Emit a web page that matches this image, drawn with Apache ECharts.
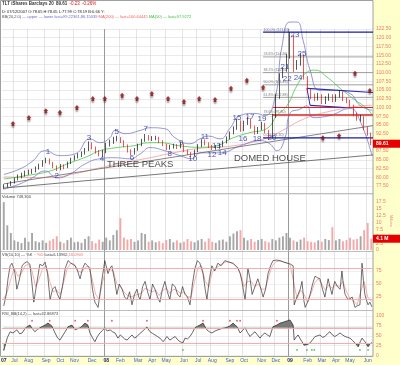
<!DOCTYPE html>
<html><head><meta charset="utf-8">
<script src="https://cdn.jsdelivr.net/npm/echarts@6/dist/echarts.min.js"></script>
<style>
html,body{margin:0;padding:0;background:#ffffcc;overflow:hidden}
#bg{position:absolute;left:0;top:0;width:373px;height:357px;background:#fff}
#c{position:absolute;left:0;top:0;width:400px;height:365px}
</style>
</head><body><div id="bg"></div><div id="c"></div>
<script>
// ---------- DATA ----------
const firstWeek = '2007-06-15';
const weekCount = 105;
const monthAbbr = ['Jan','Feb','Mar','Apr','May','Jun','Jul','Aug','Sep','Oct','Nov','Dec'];
// weekly [open, close, low, high]
const ohlc = [
[77.0,77.5,76.6,78.0],[77.5,77.8,77.1,78.3],[77.8,78.4,77.5,78.9],[78.4,79.5,78.2,79.9],[79.5,80.2,79.1,80.8],
[80.2,80.6,79.7,81.3],[80.6,81.2,80.2,81.9],[81.2,81.5,80.7,82.2],[81.5,81.8,81.0,82.4],[81.8,82.6,81.4,83.1],
[82.6,83.3,82.2,83.9],[83.3,84.3,83.0,84.9],[84.3,85.1,84.0,85.6],[85.1,84.1,83.7,85.4],[84.1,83.0,82.6,84.4],
[83.0,82.3,81.8,83.4],[82.3,83.3,82.0,83.8],[83.3,82.8,82.3,83.7],[82.8,84.0,82.6,84.5],[84.0,85.2,83.8,85.6],
[85.2,85.8,84.8,86.3],[85.8,86.2,85.4,86.9],[86.2,86.9,85.8,87.4],[86.9,87.8,86.5,88.4],[87.8,89.7,87.5,90.3],
[89.7,88.4,88.0,90.0],[88.4,87.3,86.8,88.8],[87.3,86.6,86.0,87.8],[86.6,87.2,85.9,87.9],[87.2,89.4,86.9,89.9],
[89.4,90.2,88.8,90.8],[90.2,91.0,89.6,91.6],[91.0,91.2,90.3,91.9],[91.2,90.3,89.8,91.5],[90.3,89.1,88.6,90.6],
[89.1,87.6,87.1,89.4],[87.6,86.8,86.2,88.0],[86.8,87.9,86.5,88.4],[87.9,89.2,87.6,89.6],[89.2,90.6,88.9,91.0],
[90.6,91.8,90.2,92.4],[91.8,91.0,90.5,92.1],[91.0,91.2,90.4,91.8],[91.2,91.3,90.6,91.9],[91.3,90.2,89.8,91.6],
[90.2,89.3,88.9,90.6],[89.3,88.3,87.8,89.6],[88.3,88.7,87.9,89.3],[88.7,89.1,88.2,89.6],[89.1,88.6,88.1,89.5],
[88.6,89.5,88.3,90.0],[89.5,87.6,87.2,89.7],[87.6,86.9,86.4,88.0],[86.9,86.3,85.8,87.2],[86.3,87.5,86.0,87.9],
[87.5,89.0,87.2,89.5],[89.0,90.4,88.7,90.9],[90.4,89.6,89.1,90.8],[89.6,88.9,88.4,90.0],[88.9,88.3,87.8,89.3],
[88.3,88.6,87.9,89.2],[88.6,89.0,88.2,89.6],[89.0,90.0,88.7,90.5],[90.0,91.2,89.7,91.7],[91.2,92.6,90.9,93.1],
[92.6,94.0,92.3,94.6],[94.0,96.0,93.6,96.8],[96.0,93.5,93.0,96.3],[93.5,95.5,93.2,96.2],[95.5,96.6,95.0,97.2],
[96.6,94.4,93.9,96.9],[94.4,92.7,92.2,94.8],[92.7,93.8,92.4,94.4],[93.8,95.3,93.5,95.9],[95.3,93.2,92.6,95.6],
[93.2,91.5,90.8,93.6],[91.5,97.5,91.2,98.2],[97.5,103.0,97.0,103.8],[103.0,109.0,102.5,109.8],[109.0,110.8,108.4,111.5],
[110.8,114.5,110.3,115.4],[114.5,120.5,114.0,121.6],[120.5,112.0,110.2,120.8],[112.0,112.8,110.8,113.6],[112.8,115.0,112.0,115.6],
[115.0,108.7,108.0,115.2],[108.7,105.0,104.2,109.0],[105.0,103.0,102.4,105.4],[103.0,102.8,101.8,104.0],[102.8,103.5,102.0,104.2],
[103.5,101.5,101.0,103.8],[101.5,102.4,101.0,103.2],[102.4,103.4,101.9,104.0],[103.4,102.0,101.5,103.8],[102.0,103.2,101.6,103.8],
[103.2,104.3,102.8,105.0],[104.3,102.3,101.8,104.6],[102.3,101.8,101.2,102.8],[101.8,100.6,100.0,102.2],[100.6,98.0,97.5,100.8],
[98.0,96.8,96.2,98.5],[96.8,97.2,96.0,97.9],[97.2,94.0,93.5,97.5],[94.0,92.6,91.9,94.4],[92.6,89.6,89.2,92.8]
];
// volume, millions
const volume = [17.4,9.0,6.2,3.5,3.0,2.5,4.5,3.0,6.2,3.2,2.8,3.5,2.6,3.4,4.0,5.0,3.0,2.5,3.6,4.5,
2.8,3.0,2.6,4.0,5.0,3.2,2.5,3.8,3.0,4.5,3.5,5.5,7.2,11.6,4.5,3.8,4.0,3.0,3.5,6.2,
5.8,3.0,3.5,2.8,3.2,2.5,3.6,4.0,2.8,3.5,2.6,3.0,4.0,3.2,2.8,3.5,4.0,3.0,4.2,3.0,
2.6,3.5,3.8,3.0,5.0,6.0,6.8,7.2,4.5,3.5,4.0,3.0,3.6,4.0,3.2,2.8,4.0,3.5,4.5,5.0,
6.2,4.5,3.5,3.0,3.8,4.5,3.2,3.0,2.8,3.5,3.0,4.0,3.6,8.3,3.5,4.0,3.2,3.6,4.5,3.8,
4.0,5.0,7.2,9.8,4.1];
// overlays [week, price]
const bbUpper = [[0,80.8],[4.6,82.4],[8,84.5],[11.7,87.6],[15.9,86.2],[20.2,86.7],[24.4,91.0],[27.2,89.9],[30,91.3],[31.5,93.4],[34.3,92.5],[38.6,93.4],[41.4,94.2],[45.6,93.9],[48.5,91.3],[52.7,89.6],[55.5,91.0],[58,91.8],[61.2,91.0],[64,94.0],[66.9,97.7],[71.1,98.3],[73.9,97.7],[76.8,102.9],[78.7,117.3],[81,124.5],[83,124.5],[84.7,119.3],[86.7,110.7],[89.5,104.9],[93.7,104.9],[98,104.0],[100.8,100.6],[104.2,99.2]];
const bbLower = [[0,76.6],[4.6,78.1],[8,79.8],[11.7,81.8],[15.1,79.8],[18.7,80.9],[23,83.8],[27.2,85.3],[31.5,85.6],[35.7,85.3],[38.6,86.7],[41.4,88.5],[45.6,87.6],[49.9,86.2],[53.3,85.3],[55.5,87.0],[61.2,87.0],[66.9,89.0],[72.5,90.5],[75.3,89.6],[77.3,87.6],[79.6,91.3],[81,98.3],[83.8,99.5],[85.8,100.5],[87.5,97.1],[92.3,97.7],[98,99.7],[100.8,96.2],[104.2,86.2]];
const ma50 = [[0,79.5],[6.6,80.5],[13.1,81.8],[17.9,83.8],[23.5,85.9],[27.2,87.6],[32,88.5],[36.6,89.0],[41.4,89.9],[44.2,89.9],[49.9,89.0],[55.5,88.6],[60,89.0],[64.9,91.3],[69.7,92.8],[74.5,94.0],[77.3,97.7],[80.2,100.6],[83,106.3],[85.8,110.1],[88.1,110.7],[91.5,108.7],[95.2,105.5],[98.8,102.6],[102.8,99.7],[104.2,97.9]];
const ma200 = [[0,80.1],[13.1,79.9],[20,81.0],[27.2,82.7],[34,84.2],[41.4,85.6],[48,87.0],[55.5,88.3],[64.9,89.0],[74.5,91.3],[79,93.5],[83.8,96.2],[88,97.8],[93.2,99.1],[98,100.0],[102.8,100.6],[104.2,100.64]];
const lowerTrend = [[0,76.9],[104.5,86.4]];
const upperTrend = [[0,78.1],[104.5,94.8]];
const blueLevels = [121.6, 91.3];
const fibLevels = [114.5, 110.0, 106.5, 102.9, 98.0];
const redLevels = [100.0, 97.8];
const levelStartW = 73.4, redStartW = 76.2, levelEndW = 104.5;
const boxUpper = [[85.8,105.5],[104.5,104.3]];
const boxLower = [[86.7,100.6],[96.6,100.0]];
const fibLabelText = ['100.0% (121.62)','23.6% (114.46)','38.2% (110.04)','50.0% (106.46)','61.8% (102.88)','78.6% (97.80)','0.0% (91.30)'];
const fibLabelP = [121.6,114.5,110.0,106.5,102.9,98.0,91.3];
const divW = [2.6,7.1,11.9,15.9,20.7,25.2,28.6,33.5,37.7,41.9,46.5,51,55.3,59.8,64.3,68.8,73.4,90.3,94.9,99.4,103.6];
const divP = [95.4,97.1,99.1,98.6,100.0,102.6,102.6,103.5,102.6,104.0,102.6,101.7,102.6,102.3,105.5,107.8,105.8,91.3,91.9,109.8,104.9];
const waveNames = ['1','2','3','4','5','6','7','8','9','10','11','12','13','14','15','16','17','18','19','20','21','22','23','24','25'];
const waveW = [12.5,15,24.1,27.8,32,36.3,40.2,47,50.2,53.5,56.9,58.9,60.2,61.8,66,67.7,69.7,71.7,73.1,75.9,79.6,80.2,82.4,83.3,84.4];
const waveP = [87.3,80.4,91.3,85.3,93.1,85.6,93.9,86.7,89.9,85.3,91.6,86.4,88.9,87.0,97.1,91.0,97.4,91.0,96.8,91.3,111.8,108.1,120.8,108.4,115.3];
const patternNames = ['THREE PEAKS','DOMED HOUSE'];
const patternW = [38.6, 75.3];
const patternP = [83.55, 85.3];
const vsK = [[0,8],[0.7,30],[1.2,60],[1.8,85],[2.3,90],[2.8,80],[3.2,70],[3.7,40],[4.3,55],[5.2,85],[5.8,90],[6.6,93],[7.4,88],[8,50],[8.5,15],[9.2,45],[10.2,88],[11,85],[11.7,92],[12.4,70],[13.1,20],[13.8,40],[14.5,45],[15.2,30],[15.9,20],[16.6,45],[17.4,80],[18.2,95],[19,90],[20.2,85],[20.9,75],[21.6,60],[22.3,80],[23,90],[23.7,85],[24.4,80],[25.1,40],[25.8,15],[26.7,5],[27.6,50],[28.6,95],[29.5,70],[30,80],[30.6,85],[31.3,60],[32,30],[32.7,50],[33.5,40],[34.2,25],[34.9,20],[35.6,35],[36.3,10],[37,30],[37.7,40],[38.2,25],[38.6,20],[39.3,45],[40,55],[40.7,35],[41.4,20],[42.1,50],[42.8,40],[43.5,25],[44.2,15],[44.9,40],[45.6,55],[46.3,35],[47,20],[47.7,50],[48.5,45],[49.2,30],[49.9,25],[50.6,45],[51.3,30],[52,25],[52.7,10],[53.4,50],[54.1,80],[54.8,95],[55.5,90],[56.4,70],[57,40],[57.5,20],[58.2,60],[58.9,85],[59.7,75],[60.6,90],[61.5,85],[62.6,95],[63.7,92],[64.9,90],[65.6,85],[66.3,80],[66.9,70],[67.4,55],[67.9,35],[68.3,20],[68.7,50],[69.1,80],[69.7,60],[70.3,30],[71.1,45],[71.9,60],[72.6,45],[73.4,25],[74.1,40],[74.8,70],[75.5,85],[76.2,95],[77.2,96],[78.2,95],[79.3,92],[80.4,90],[81.2,88],[81.9,85],[82.2,10],[82.7,20],[83.3,30],[83.9,40],[84.4,55],[84.9,20],[85.3,5],[86,15],[86.7,30],[87.4,50],[88.1,65],[88.8,62],[89.5,60],[90.2,40],[90.9,25],[91.4,45],[91.8,60],[92.3,45],[92.9,30],[93.3,45],[93.7,55],[94.4,45],[95.2,40],[95.7,75],[96.1,50],[96.6,30],[97,25],[97.4,20],[98,22],[98.6,25],[99,15],[99.4,5],[100,8],[100.8,10],[101.4,90],[101.8,55],[102.2,30],[102.6,20],[103.1,10],[103.6,15],[104.2,6]];
const vsD = [[0,20],[1,35],[2,60],[3,80],[4,65],[5,70],[6,85],[7,88],[8,75],[9,45],[10,60],[11,80],[12,85],[13,55],[14,35],[15,38],[16,30],[17,55],[18,80],[19,90],[20,88],[21,75],[22,72],[23,82],[24,84],[25,60],[26,30],[27,20],[28,55],[29,80],[30,78],[31,75],[32,50],[33,45],[34,35],[35,28],[36,25],[37,28],[38,30],[39,32],[40,42],[41,38],[42,35],[43,38],[44,28],[45,38],[46,42],[47,32],[48,40],[49,38],[50,32],[51,35],[52,25],[53,25],[54,55],[55,82],[56,85],[57,55],[58,45],[59,72],[60,80],[61,85],[62,90],[63,93],[64,92],[65,88],[66,84],[67,70],[68,45],[69,55],[70,55],[71,45],[72,50],[73,40],[74,40],[75,65],[76,85],[77,93],[78,94],[79,93],[80,90],[81,88],[82,55],[83,22],[84,38],[85,30],[86,15],[87,32],[88,52],[89,60],[90,50],[91,38],[92,48],[93,42],[94,48],[95,45],[96,55],[97,35],[98,22],[99,18],[100,10],[101,35],[102,55],[103,25],[104.2,16]];
const rsi = [[0,14],[0.3,22],[1,45],[1.8,60],[2.6,57],[3.7,65],[4.5,55],[5.2,57],[6,68],[6.6,73],[7.4,77],[8.1,68],[8.8,60],[9.5,66],[10.2,70],[11,74],[11.7,77],[12.5,82],[13.6,75],[14.5,57],[15.2,45],[15.9,39],[16.8,52],[17.5,62],[18.2,73],[19.3,77],[20.2,65],[21,68],[21.6,70],[22.3,76],[23,82],[23.8,77],[24.4,57],[25.1,45],[25.8,35],[26.5,48],[27.2,57],[28,64],[28.6,70],[29.3,62],[30.1,65],[30.8,60],[31.5,57],[32.3,44],[33,52],[33.5,48],[34.2,42],[34.9,39],[35.6,46],[36.3,52],[37,44],[37.7,48],[38.4,55],[39.1,60],[39.8,66],[40.5,72],[41.4,60],[42.1,56],[42.8,52],[43.5,48],[44.2,44],[45.1,35],[45.7,42],[46.2,48],[47,39],[47.8,44],[48.5,48],[49.2,40],[49.9,35],[50.7,32],[51.3,44],[52,42],[52.7,48],[53.4,58],[54.1,70],[54.8,74],[55.5,77],[56.4,82],[57,72],[57.5,65],[58.2,60],[58.9,57],[59.8,62],[60.6,65],[61.6,68],[62.6,70],[63.3,72],[64,75],[64.9,82],[65.4,78],[66,73],[66.9,57],[67.6,64],[68.3,70],[69,58],[69.7,48],[70.4,55],[71.1,60],[71.8,52],[72.5,44],[73.2,52],[73.9,57],[74.6,52],[75.3,48],[76.2,73],[77.3,77],[78.2,82],[79,84],[79.6,86],[80.3,88],[81,90],[81.5,86],[81.9,77],[82.2,39],[82.7,46],[83.3,52],[83.9,42],[84.4,35],[85,26],[85.3,22],[86,28],[86.7,32],[87.4,40],[88.1,48],[88.8,50],[89.5,52],[90.2,46],[90.9,48],[91.6,55],[92.3,60],[93,52],[93.7,48],[94.4,52],[95.2,57],[95.9,52],[96.6,48],[97.3,46],[98,44],[98.7,38],[99.4,32],[100.3,22],[100.9,35],[101.4,44],[101.8,40],[102.2,35],[102.7,28],[103.1,22],[103.7,30],[104.2,33]];
const rsiTopW = [8,13,20.2,23.8,30.6,40.5,56.4,64,66,66.9,77.3];
const rsiBotW = [0,50.7,83,85.8,87.2,87.9,100.8,103.1];

// ---------- BUILD ----------
const FONT = '"Liberation Sans", Arial, sans-serif';
const dates = [];
const d0 = Date.UTC(2007,5,15);
for (let i = 0; i < weekCount; i++) dates.push(new Date(d0 + i*7*86400000).toISOString().slice(0,10));
const labelMap = {}; const monthStarts = [];
dates.forEach((s,i)=>{
  const d = new Date(s); const m = d.getUTCMonth();
  const yy = String(d.getUTCFullYear()).slice(2);
  if (i === 0) { labelMap[0] = {t:yy, y:true}; return; }
  const pm = new Date(dates[i-1]).getUTCMonth();
  if (m !== pm) { monthStarts.push(i); labelMap[i] = m===0 ? {t:yy,y:true} : {t:monthAbbr[m], y:false}; }
});

const chart = echarts.init(document.getElementById('c'), null, {renderer:'canvas'});
const G = [
  {left:2, right:27, top:29, height:165.7},
  {left:2, right:27, top:195, height:55},
  {left:2, right:27, top:258, height:52},
  {left:2, right:27, top:316, height:39.5}
].map(g=>Object.assign(g,{containLabel:false, outerBoundsMode:'none', show:false}));

function catAxis(g, show){
  return {type:'category', gridIndex:g, data:dates, boundaryGap:true,
    axisLine:{show:false}, axisTick:{show:false}, splitLine:{show:false},
    axisLabel: show ? {
      interval:(i)=>labelMap[i]!==undefined, margin:3,
      formatter:(v,i)=>{const L=labelMap[i]; if(!L) return ''; return L.y?'{y|'+L.t+'}':'{m|'+L.t+'}';},
      rich:{y:{color:'#1a237e',fontWeight:'bold',fontSize:5,fontFamily:FONT}, m:{color:'#3a62d0',fontSize:5,fontFamily:FONT}}
    } : {show:false}};
}
function valAxis(g){ return {type:'value', gridIndex:g, min:-0.5, max:104.5, show:false}; }
const yLabel = {color:'#f07a6a', fontSize:5, fontFamily:FONT, margin:3};
const yAxes = [
  {type:'value', gridIndex:0, position:'right', min:75, max:122.5, interval:2.5,
   axisLine:{show:false}, axisTick:{show:false},
   axisLabel:Object.assign({formatter:v=>v===75?'':v.toFixed(2)}, yLabel),
   splitLine:{show:true, lineStyle:{color:'#dcdcdc', width:0.6}}},
  {type:'value', gridIndex:1, position:'right', min:0, max:20, interval:2.5,
   axisLine:{show:false}, axisTick:{show:false},
   axisLabel:Object.assign({formatter:v=>v===20?'':String(v)}, yLabel), splitLine:{show:false}},
  {type:'value', gridIndex:2, position:'right', min:0, max:100, interval:25,
   axisLine:{show:false}, axisTick:{show:false},
   axisLabel:Object.assign({formatter:v=>(v===0||v===100)?'':String(v)}, yLabel),
   splitLine:{show:true, lineStyle:{color:'#e4e4e4', width:0.6}}},
  {type:'value', gridIndex:3, position:'right', min:0, max:100, interval:25,
   axisLine:{show:false}, axisTick:{show:false},
   axisLabel:Object.assign({formatter:v=>String(v)}, yLabel),
   splitLine:{show:true, lineStyle:{color:'#e4e4e4', width:0.6}}}
];

function line(data, color, width, xi, yi, extra){
  return Object.assign({type:'line', xAxisIndex:xi, yAxisIndex:yi, data:data, symbol:'none',
    lineStyle:{color:color, width:width}, itemStyle:{color:color}, silent:true, animation:false}, extra||{});
}
const series = [];
series.push(line(ma200,'#f39a9a',0.8,4,0,{smooth:true}));
series.push(line(ma50,'#46c846',0.8,4,0,{smooth:true}));
series.push(line(bbUpper,'#7b7bc8',0.8,4,0,{smooth:true, clip:false}));
series.push(line(bbLower,'#7b7bc8',0.8,4,0,{smooth:true}));
series.push(line(lowerTrend,'#555',0.8,4,0));
series.push(line(upperTrend,'#666',0.8,4,0));
fibLevels.forEach(v=>series.push(line([[levelStartW,v],[levelEndW,v]],'#8a8a8a',0.8,4,0)));
redLevels.forEach(v=>series.push(line([[redStartW,v],[levelEndW,v]],'#e82020',1.2,4,0)));
blueLevels.forEach(v=>series.push(line([[levelStartW,v],[levelEndW,v]],'#1a1aa8',1.4,4,0)));
series.push(line(boxUpper,'#2a2ab8',1.2,4,0));
series.push(line(boxLower,'#2a2ab8',1.2,4,0));
series.push(line([boxUpper[0],boxLower[0]],'#2a2ab8',1,4,0));
series.push({type:'candlestick', xAxisIndex:0, yAxisIndex:0, data:ohlc, barWidth:1.3, z:5, silent:true,
  itemStyle:{color:'#111', color0:'#e01010', borderColor:'#111', borderColor0:'#e01010', borderWidth:0.7}});
series.push({type:'scatter', xAxisIndex:4, yAxisIndex:0, silent:true, z:4,
  symbol:'path://M5,0 L10,5 L7.5,5 L7.5,9 L2.5,9 L2.5,5 L0,5 Z', symbolSize:[5,5],
  itemStyle:{color:'#8b1010', shadowColor:'rgba(0,0,0,0.45)', shadowBlur:1.5, shadowOffsetY:2},
  data:divW.map((w,k)=>[w,divP[k]])});
series.push({type:'scatter', xAxisIndex:4, yAxisIndex:0, silent:true, z:8, symbolSize:1,
  itemStyle:{color:'rgba(0,0,0,0)'},
  label:{show:true, position:'inside', formatter:'{b}', color:'#1f2f9f', fontSize:8, fontFamily:FONT},
  data:waveNames.map((n,k)=>({name:n, value:[waveW[k],waveP[k]]}))});
series.push({type:'scatter', xAxisIndex:4, yAxisIndex:0, silent:true, z:8, symbolSize:1,
  itemStyle:{color:'rgba(0,0,0,0)'},
  label:{show:true, position:'inside', formatter:'{b}', color:'#1a1a1a', fontSize:9.5, fontFamily:FONT},
  data:patternNames.map((n,k)=>({name:n, value:[patternW[k],patternP[k]]}))});
series.push({type:'scatter', xAxisIndex:4, yAxisIndex:0, silent:true, z:8, symbolSize:1,
  itemStyle:{color:'rgba(0,0,0,0)'},
  label:{show:true, position:[1,-4], align:'left', formatter:'{b}', color:'#555', fontSize:3.5, fontFamily:FONT},
  data:fibLabelText.map((n,k)=>({name:n, value:[levelStartW,fibLabelP[k]]}))});
// volume
series.push({type:'bar', xAxisIndex:1, yAxisIndex:1, silent:true, barWidth:1.9,
  data:volume.map((v,i)=>({value:v, itemStyle:{color: ohlc[i][1]>=ohlc[i][0] ? '#a6a6a6' : '#f4a8a8'}}))});
// VS
series.push(line(vsD,'#f49a9a',0.8,6,2,{markLine:{silent:true, symbol:'none', label:{show:false},
  lineStyle:{color:'#f4a4a4', type:'solid', width:0.9}, data:[{yAxis:80},{yAxis:20}]}}));
series.push(line(vsK,'#333',0.7,6,2));
// RSI
const rsiFillIndex = series.length;
series.push(line(rsi,'#808080',0,7,3,{areaStyle:{origin:70, opacity:1}}));
series.push(line(rsi,'#222',0.7,7,3,{markLine:{silent:true, symbol:'none', label:{show:false},
  lineStyle:{color:'#f4a4a4', type:'solid', width:0.9}, data:[{yAxis:70},{yAxis:30}]}}));
series.push({type:'scatter', xAxisIndex:7, yAxisIndex:3, silent:true, symbolSize:1.8,
  itemStyle:{color:'#e83030'}, data:rsiTopW.map(w=>[w,88])});
series.push({type:'scatter', xAxisIndex:7, yAxisIndex:3, silent:true, symbolSize:1.8,
  itemStyle:{color:'#30b030'}, data:rsiBotW.map(w=>[w,14])});

chart.setOption({
  animation:false,
  backgroundColor:'transparent',
  grid:G,
  xAxis:[catAxis(0,false),catAxis(1,false),catAxis(2,false),catAxis(3,true),valAxis(0),valAxis(1),valAxis(2),valAxis(3)],
  yAxis:yAxes,
  visualMap:[{type:'piecewise', show:false, seriesIndex:rsiFillIndex, dimension:1,
    pieces:[{gt:70,color:'#7a7a7a'},{gt:30,lte:70,color:'rgba(255,255,255,0)'},{lte:30,color:'#7a7a7a'}]}],
  series:series
});

// ---------- GRAPHIC OVERLAY ----------
const gfx = [];
const px = w => chart.convertToPixel({xAxisIndex:4}, w);
monthStarts.forEach(i=>{
  const x = Math.round(px(i-0.5))+0.5; const yr = labelMap[i].y;
  gfx.push({type:'line', silent:true, z:1, shape:{x1:x,y1:29,x2:x,y2:356.5},
    style:{stroke: yr?'#9a9a9a':'#d8d8d8', lineWidth: yr?1:0.7}});
});
[193.5, 251.5, 310.5].forEach(y=>gfx.push({type:'line', silent:true, z:1, shape:{x1:0,y1:y,x2:373,y2:y}, style:{stroke:'#b0b0b0', lineWidth:0.8}}));
gfx.push({type:'rect', silent:true, z:1, shape:{x:0.5,y:0.5,width:372.5,height:356}, style:{fill:'none', stroke:'#a0a0a0', lineWidth:1}});
const hdr = (x,y,text,rich)=>({type:'text', silent:true, z:50, x:x, y:y, style:{text:text, rich:rich, fontFamily:FONT, fontSize:4, fill:'#333', verticalAlign:'middle'}});
gfx.push(hdr(2,4,'{a|TLT iShares Barclays 20}  {a|89.61}  {r|-0.23}  {r|-0.26%}',
  {a:{fontSize:4.5,fontWeight:'bold',fill:'#333',fontFamily:FONT}, r:{fontSize:4.5,fill:'#e41010',fontFamily:FONT}}));
gfx.push(hdr(2,11.5,'{a|D: 07/12/2007 O:78.65 H:78.65 L:77.99 C:78.19 B:0.66 Y:}',
  {a:{fontSize:4,fill:'#222',fontFamily:FONT}}));
gfx.push(hdr(2,17,'{g|BB(20,2.0)} {b|— upper — lower last=99.22361,86.15039} {r|MA(200) — last=100.64445} {n|MA(50) — last=97.9272}',
  {g:{fontSize:4,fill:'#555',fontFamily:FONT}, b:{fontSize:4,fill:'#6a6ad0',fontFamily:FONT}, r:{fontSize:4,fill:'#f06060',fontFamily:FONT}, n:{fontSize:4,fill:'#40c040',fontFamily:FONT}}));
gfx.push(hdr(2,197,'{a|Volume 748,300}', {a:{fontSize:4,fill:'#444',fontFamily:FONT}}));
gfx.push(hdr(2,255,'{a|VS(10,10) — %K} {r|~ %D} {a|last=6.13962,}{r|16.0905}', {a:{fontSize:4,fill:'#444',fontFamily:FONT}, r:{fontSize:4,fill:'#f07070',fontFamily:FONT}}));
gfx.push(hdr(2,314,'{a|RSI_BB(14,2) — last=32.86873}', {a:{fontSize:4,fill:'#444',fontFamily:FONT}}));
// tags
const priceY = chart.convertToPixel({yAxisIndex:0}, 89.61);
const volY = chart.convertToPixel({yAxisIndex:1}, 4.1);
[[priceY,'89.61'],[volY,'4.1 M']].forEach(([y,t])=>{
  gfx.push({type:'rect', silent:true, z:60, shape:{x:373,y:y-4,width:27,height:8}, style:{fill:'#e60000'}});
  gfx.push({type:'text', silent:true, z:61, x:376, y:y, style:{text:t, fill:'#fff', fontSize:5, fontWeight:'bold', fontFamily:FONT, verticalAlign:'middle'}});
});
gfx.push({type:'text', silent:true, z:61, x:391, y:215, rotation:-Math.PI/2, style:{text:'Millions', fill:'#f08080', fontSize:3.5, fontFamily:FONT, verticalAlign:'middle'}});
chart.setOption({graphic:gfx});
</script>
</body></html>
